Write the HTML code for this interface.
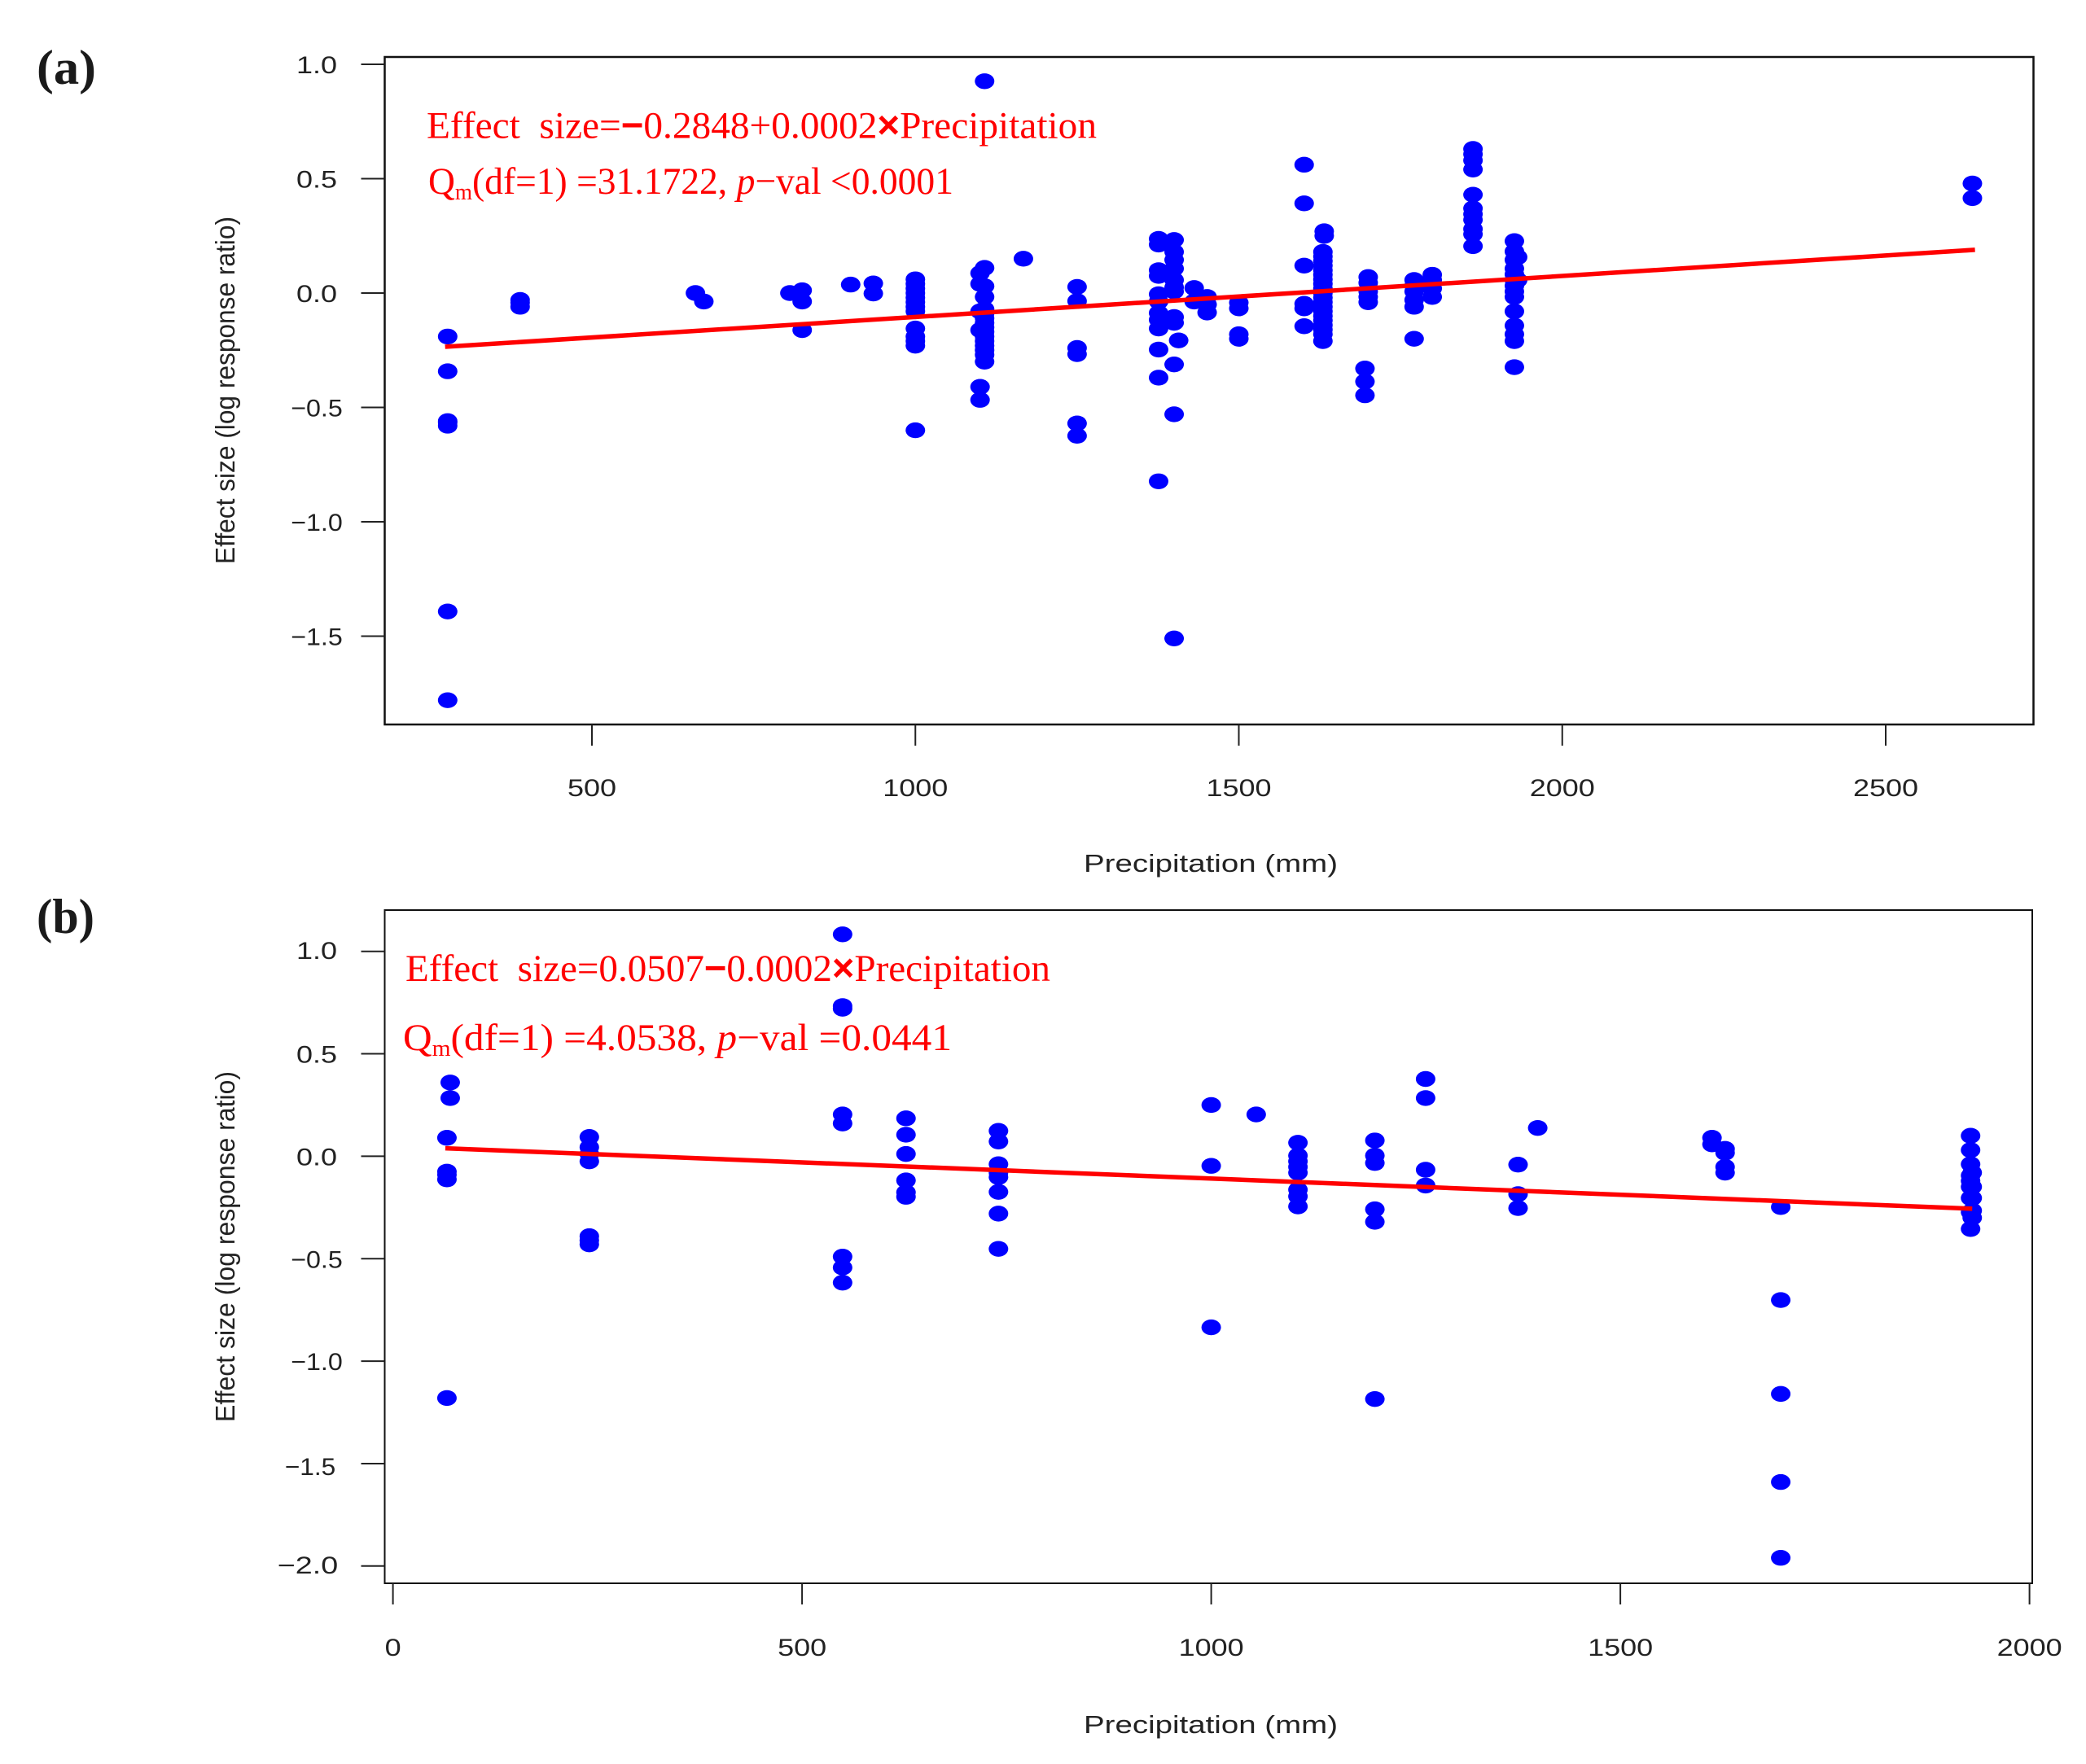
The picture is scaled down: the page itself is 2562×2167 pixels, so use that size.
<!DOCTYPE html>
<html lang="en">
<head>
<meta charset="utf-8">
<title>Effect size versus precipitation</title>
<style>
html,body{margin:0;padding:0;background:#fff}
svg{display:block}
text{font-family:"Liberation Sans",sans-serif}
.note{font-family:"Liberation Serif",serif;fill:#f00}
.tag{font-family:"Liberation Serif",serif;font-weight:bold;fill:#1a1a1a}
.sym{font-family:"Liberation Sans",sans-serif;font-weight:bold}
</style>
</head>
<body>
<svg id="figure" xmlns="http://www.w3.org/2000/svg" width="2562" height="2167" viewBox="0 0 2562 2167">
<rect width="2562" height="2167" fill="#fff"/>
<text class="tag" x="45" y="103" font-size="60" textLength="73" lengthAdjust="spacingAndGlyphs">(a)</text>
<text class="tag" x="45" y="1146" font-size="60" textLength="71" lengthAdjust="spacingAndGlyphs">(b)</text>
<text class="note" x="524" y="169.5" font-size="47" textLength="823" lengthAdjust="spacingAndGlyphs" xml:space="preserve">Effect  size=<tspan class="sym">−</tspan>0.2848+0.0002<tspan class="sym">×</tspan>Precipitation</text>
<text class="note" x="526" y="238" font-size="47" textLength="645" lengthAdjust="spacingAndGlyphs">Q<tspan font-size="28" dy="7">m</tspan><tspan dy="-7">(df=1) =31.1722, </tspan><tspan font-style="italic">p</tspan>−val &lt;0.0001</text>
<text class="note" x="498" y="1205" font-size="47" textLength="792" lengthAdjust="spacingAndGlyphs" xml:space="preserve">Effect  size=0.0507<tspan class="sym">−</tspan>0.0002<tspan class="sym">×</tspan>Precipitation</text>
<text class="note" x="495" y="1290" font-size="47" textLength="674" lengthAdjust="spacingAndGlyphs">Q<tspan font-size="28" dy="7">m</tspan><tspan dy="-7">(df=1) =4.0538, </tspan><tspan font-style="italic">p</tspan>−val =0.0441</text>
</svg>
<script>
/* Panel (a) data: each x value owns one column of effect sizes */
var panelAPrecip = [277,389,660,673,806,825,900,935,1000,1100,1107,1167,1250,1376,1400,1407,1431,1451,1500,1601,1630,1632,1695,1700,1771,1799,1862,1926,1931,2634];
var panelAEffect = [
 [-0.19,-0.342,-0.56,-0.566,-0.58,-1.392,-1.78],
 [-0.03,-0.042,-0.06],
 [0.0],
 [-0.037],
 [0.0],
 [0.012,-0.037,-0.162],
 [0.037],
 [0.042,-0.002],
 [0.06,0.04,0.02,0.0,-0.02,-0.04,-0.06,-0.08,-0.155,-0.19,-0.21,-0.23,-0.6],
 [0.087,0.04,-0.08,-0.162,-0.41,-0.467],
 [0.926,0.11,0.03,-0.017,-0.07,-0.09,-0.11,-0.13,-0.15,-0.17,-0.19,-0.21,-0.23,-0.25,-0.27,-0.3],
 [0.15],
 [0.027,-0.035,-0.24,-0.267,-0.57,-0.624],
 [0.237,0.212,0.1,0.075,-0.005,-0.037,-0.087,-0.117,-0.155,-0.247,-0.37,-0.823],
 [0.232,0.18,0.145,0.107,0.057,0.025,0.007,-0.105,-0.13,-0.312,-0.53,-1.51],
 [-0.207],
 [0.022,-0.037],
 [-0.017,-0.05,-0.085],
 [-0.042,-0.067,-0.18,-0.2],
 [0.561,0.392,0.12,-0.047,-0.067,-0.145],
 [0.18,0.16,0.14,0.12,0.1,0.08,0.06,0.04,0.02,0.0,-0.02,-0.04,-0.06,-0.08,-0.1,-0.12,-0.14,-0.16,-0.18,-0.21],
 [0.27,0.25],
 [-0.33,-0.387,-0.447],
 [0.07,0.045,0.007,-0.017,-0.04],
 [0.057,0.032,0.007,-0.03,-0.06,-0.2],
 [0.08,0.057,0.02,-0.017],
 [0.63,0.607,0.58,0.54,0.43,0.37,0.345,0.32,0.28,0.257,0.205],
 [0.227,0.182,0.145,0.107,0.082,0.057,0.032,0.007,-0.017,-0.08,-0.142,-0.18,-0.21,-0.324],
 [0.157,0.057],
 [0.479,0.415]
];
var panelALineX = [273,2638];
var panelALineY = [-0.235,0.189];
var panelAXTicks = [500,1000,1500,2000,2500];
var panelAYTicks = [1.0,0.5,0.0,-0.5,-1.0,-1.5];

/* Panel (b) data */
var panelBPrecip = [66,70,240,549.5,627,740,1000,1055,1106,1200,1262,1375,1399,1612,1628,1696,1928,1930];
var panelBEffect = [
 [0.09,-0.075,-0.09,-0.113,-1.18],
 [0.36,0.284],
 [0.094,0.044,0.011,-0.025,-0.39,-0.41,-0.43],
 [1.083,0.733,0.72,0.204,0.16,-0.49,-0.543,-0.617],
 [0.185,0.105,0.011,-0.118,-0.176,-0.198],
 [0.124,0.072,-0.039,-0.08,-0.102,-0.174,-0.28,-0.452],
 [0.25,-0.047,-0.835],
 [0.204],
 [0.066,0.003,-0.025,-0.052,-0.08,-0.163,-0.196,-0.245],
 [0.077,0.003,-0.033,-0.259,-0.32,-1.185],
 [0.377,0.284,-0.066,-0.143],
 [-0.041,-0.185,-0.253],
 [0.138],
 [0.09,0.058],
 [0.036,0.017,-0.052,-0.08],
 [-0.248,-0.702,-1.16,-1.59,-1.96],
 [0.1,0.03,-0.039,-0.094,-0.12,-0.149,-0.204,-0.273,-0.355],
 [-0.08,-0.149,-0.204,-0.265,-0.3]
];
var panelBLineX = [64,1930];
var panelBLineY = [0.039,-0.256];
var panelBXTicks = [0,500,1000,1500,2000];
var panelBYTicks = [1.0,0.5,0.0,-0.5,-1.0,-1.5,-2.0];

var svg = document.getElementById('figure');
var NS = 'http://www.w3.org/2000/svg';

function shape(tag, attrs) {
  var el = document.createElementNS(NS, tag);
  for (var k in attrs) el.setAttribute(k, attrs[k]);
  svg.appendChild(el);
  return el;
}

function yLabel(v) {
  return (v < 0 ? '\u2212' : '') + Math.abs(v).toFixed(1);
}

function drawPanel(p) {
  var xPos = function (v) { return p.x0 + (v - p.xv0) * p.xk; };
  var yPos = function (v) { return p.y0 - v * p.yk; };

  p.precip.forEach(function (px, i) {
    p.effect[i].forEach(function (v) {
      var dot = shape('ellipse', {cx: xPos(px), cy: yPos(v), rx: 12, ry: 9.7, fill: '#0000ff'});
      
      
    });
  });

  var line = shape('line', {x1: xPos(p.lineX[0]), y1: yPos(p.lineY[0]), x2: xPos(p.lineX[1]), y2: yPos(p.lineY[1]), stroke: '#ff0000', 'stroke-width': 5.5});
  
  

  var frame = shape('rect', {x: p.left, y: p.top, width: p.right - p.left, height: p.bottom - p.top, fill: 'none', stroke: '#111', 'stroke-width': p.sw});
  
  

  p.xTicks.forEach(function (v) {
    var tick = shape('line', {x1: xPos(v), x2: xPos(v), y1: p.bottom, y2: p.bottom + 26, stroke: '#222', 'stroke-width': 2});
    
    
    var t = shape('text', {transform: 'translate(' + xPos(v) + ',' + p.xLabelY + ') scale(1.2,1)', 'text-anchor': 'middle', 'font-size': 30, fill: '#222'});
    t.textContent = String(v);
    
    
  });

  p.yTicks.forEach(function (v) {
    var tick = shape('line', {x1: p.left - 29, x2: p.left, y1: yPos(v), y2: yPos(v), stroke: '#222', 'stroke-width': 2});
    
    
    var nudge = p.labelNudge(v);
    var t = shape('text', {transform: 'translate(' + nudge.cx + ',' + (yPos(v) + 11 + nudge.dy) + ') scale(1.2,1)', 'text-anchor': 'middle', 'font-size': 30, fill: '#222'});
    if (v < 0) { t.setAttribute('textLength', nudge.len); t.setAttribute('lengthAdjust', 'spacingAndGlyphs'); }
    t.textContent = yLabel(v);
    
    
  });

  var xt = shape('text', {x: 1331, y: p.xTitleY, 'font-size': 31, textLength: 312, lengthAdjust: 'spacingAndGlyphs', fill: '#222'});
  xt.textContent = 'Precipitation (mm)';
  
  

  var yt = shape('text', {transform: 'translate(288,' + p.yTitleBase + ') rotate(-90)', 'font-size': 33, textLength: p.yTitleLen, lengthAdjust: 'spacingAndGlyphs', fill: '#222'});
  yt.textContent = 'Effect size (log response ratio)';
  
  
}

drawPanel({
  left: 472.5, right: 2497.5, top: 70, bottom: 890, sw: 2.5,
  x0: 727, xv0: 500, xk: 0.7945,
  y0: 360, yk: 281,
  precip: panelAPrecip, effect: panelAEffect, lineX: panelALineX, lineY: panelALineY,
  xTicks: panelAXTicks, yTicks: panelAYTicks,
  xLabelY: 978, xTitleY: 1071, yTitleBase: 693, yTitleLen: 427,
  labelNudge: function () { return {cx: 389, dy: 0, len: 53}; }
});

drawPanel({
  left: 472.5, right: 2496, top: 1118, bottom: 1945, sw: 2,
  x0: 482.6, xv0: 0, xk: 1.005,
  y0: 1420.4, yk: 251.7,
  precip: panelBPrecip, effect: panelBEffect, lineX: panelBLineX, lineY: panelBLineY,
  xTicks: panelBXTicks, yTicks: panelBYTicks,
  xLabelY: 2034, xTitleY: 2129, yTitleBase: 1747, yTitleLen: 431,
  labelNudge: function (v) {
    if (v === -2) return {cx: 378, dy: -2, len: 62};
    if (v === -1.5) return {cx: 381, dy: 3, len: 52};
    if (v === 1) return {cx: 389, dy: -1.5, len: 53};
    return {cx: 389, dy: 0, len: 53};
  }
});
</script>
</body>
</html>
